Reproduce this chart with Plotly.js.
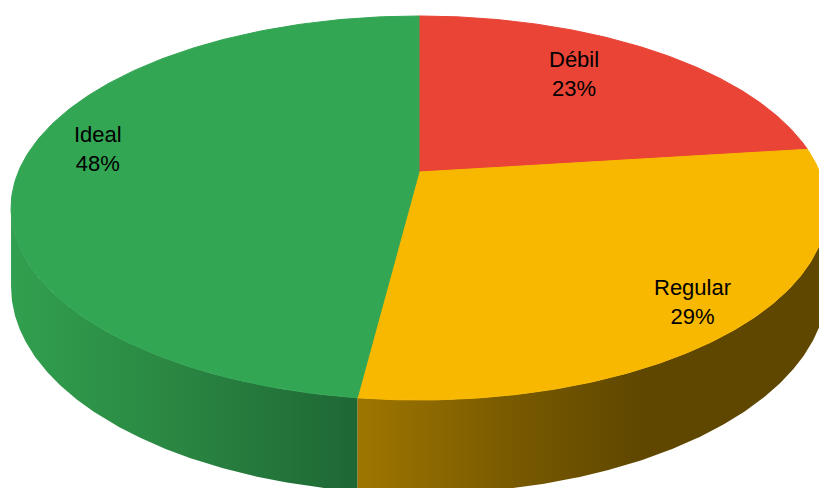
<!DOCTYPE html>
<html>
<head>
<meta charset="utf-8">
<script src="https://cdn.plot.ly/plotly-3.0.1.min.js"></script>
<style>html,body{margin:0;padding:0;background:#fff;}#chart{width:819px;height:488px;}</style>
</head>
<body>
<div id="chart"></div>
<script>
// ---- data ----
const categories = ['Débil', 'Regular', 'Ideal'];
const values = [23, 29, 48];
const percentLabels = ['23%', '29%', '48%'];

// ---- style ----
const topColors = ['#E94436', '#F8B800', '#33A654'];
const wallGradients = [
  null,
  {start: 368, stop: 824, colorscale: [[0, '#9C7400'], [0.3, '#7A5B00'], [0.6, '#5F4700'], [1, '#5F4700']]},
  {start: 11, stop: 368, colorscale: [[0, '#31A04E'], [0.45, '#2A8742'], [1, '#1E6534']]}
];
const labelPos = [[574, 74], [692, 302], [98, 149]];

// ---- perspective projection of a pie lying on a plane ----
const CX = 419, K = 2137, D = 5.333, C = 5269, S = 816, THICK = 1.077;
function project(t, r, depth) {
  const u = r * Math.sin(t), v = r * Math.cos(t);
  const z = D + v;
  return [CX + K * u / z, -S + C * depth / z];
}
function arc(t1, t2, depth, n) {
  const xs = [], ys = [];
  for (let i = 0; i <= n; i++) {
    const t = t1 + (t2 - t1) * i / n;
    const p = project(t, 1, depth);
    xs.push(p[0]); ys.push(p[1]);
  }
  return [xs, ys];
}

const total = values.reduce((a, b) => a + b, 0);
const traces = [];
const wallTraces = [];
const topTraces = [];
const silA = Math.acos(-1 / D);            // right silhouette angle
const silB = 2 * Math.PI - silA;           // left silhouette angle
let acc = 0;
values.forEach((val, i) => {
  const t1 = acc / total * 2 * Math.PI;
  acc += val;
  const t2 = acc / total * 2 * Math.PI;
  // top face
  const a = arc(t1, t2, 1, 200);
  const c = project(0, 0, 1);
  topTraces.push({
    x: [c[0]].concat(a[0], [c[0]]), y: [c[1]].concat(a[1], [c[1]]),
    mode: 'lines', fill: 'toself', fillcolor: topColors[i],
    line: {color: topColors[i], width: 1}, hoverinfo: 'skip', showlegend: false
  });
  // front wall
  const w1 = Math.max(t1, silA), w2 = Math.min(t2, silB);
  if (w2 > w1) {
    const up = arc(w1, w2, 1, 200);
    const dn = arc(w2, w1, THICK, 200);
    const g = wallGradients[i];
    wallTraces.push({
      x: up[0].concat(dn[0], [up[0][0]]), y: up[1].concat(dn[1], [up[1][0]]),
      mode: 'lines', fill: 'toself',
      fillgradient: {type: 'horizontal', start: g.start, stop: g.stop, colorscale: g.colorscale},
      line: {width: 0}, hoverinfo: 'skip', showlegend: false
    });
  }
});

const annotations = categories.map((cat, i) => ({
  x: labelPos[i][0], y: labelPos[i][1], xref: 'x', yref: 'y',
  text: cat + '<br>' + percentLabels[i], showarrow: false,
  xanchor: 'center', yanchor: 'middle', align: 'center',
  font: {family: 'Liberation Sans, Arial, sans-serif', size: 22, color: '#000'}
}));

const layout = {
  width: 819, height: 488,
  margin: {l: 0, r: 0, t: 0, b: 0},
  paper_bgcolor: '#fff', plot_bgcolor: '#fff',
  xaxis: {range: [0, 819], visible: false, fixedrange: true},
  yaxis: {range: [488, 0], visible: false, fixedrange: true},
  showlegend: false,
  annotations: annotations
};

Plotly.newPlot('chart', wallTraces.concat(topTraces), layout, {displayModeBar: false, staticPlot: true});
</script>
</body>
</html>
